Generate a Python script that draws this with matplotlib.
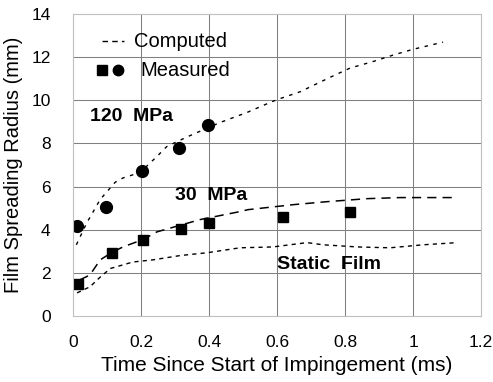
import matplotlib.pyplot as plt

plt.rcParams['font.family'] = ['Liberation Sans', 'DejaVu Sans']

# measured film radius (mm) vs time (ms)
t_120 = [0.012, 0.097, 0.203, 0.312, 0.397]
r_120 = [4.19, 5.07, 6.74, 7.77, 8.84]
t_30 = [0.014, 0.114, 0.207, 0.318, 0.401, 0.616, 0.813]
r_30 = [1.49, 2.93, 3.53, 4.05, 4.33, 4.6, 4.84]

# computed curves
tc_120 = [0.01, 0.04, 0.08, 0.124, 0.147, 0.197, 0.247, 0.276, 0.335, 0.432,
          0.512, 0.579, 0.603, 0.668, 0.756, 0.815, 0.882, 0.941, 1.0, 1.088]
rc_120 = [3.3, 4.3, 5.4, 6.2, 6.4, 6.65, 7.4, 7.86, 8.3, 8.97,
          9.44, 9.9, 10.05, 10.4, 11.07, 11.5, 11.8, 12.1, 12.37, 12.7]
tc_30 = [0.02, 0.05, 0.08, 0.115, 0.147, 0.207, 0.247, 0.374, 0.491, 0.515,
         0.647, 0.747, 0.865, 0.962, 1.08, 1.12]
rc_30 = [1.67, 1.9, 2.6, 2.95, 3.2, 3.55, 3.9, 4.47, 4.84, 4.93,
         5.16, 5.3, 5.44, 5.49, 5.49, 5.49]
tc_st = [0.012, 0.05, 0.08, 0.11, 0.176, 0.235, 0.315, 0.394, 0.491, 0.588,
         0.688, 0.735, 0.835, 0.932, 1.03, 1.13]
rc_st = [1.07, 1.35, 1.8, 2.2, 2.5, 2.6, 2.8, 2.93, 3.16, 3.2,
         3.4, 3.3, 3.2, 3.16, 3.3, 3.4]

fig = plt.figure(figsize=(4.93, 3.82), dpi=100)
ax = fig.add_axes([0.148, 0.173, 0.828, 0.79])

ax.set_xlim(0, 1.2)
ax.set_ylim(0, 14)
ax.set_xticks([0, 0.2, 0.4, 0.6, 0.8, 1.0, 1.2])
ax.set_xticklabels(['0', '0.2', '0.4', '0.6', '0.8', '1', '1.2'])
ax.set_yticks(range(0, 15, 2))
ax.tick_params(length=0, labelsize=12.5)
ax.tick_params(axis='x', pad=14)
ax.tick_params(axis='y', pad=16)

# light grid through the interior ticks
for gx in [0.2, 0.4, 0.6, 0.8, 1.0]:
    ax.plot([gx, gx], [0, 14], color='0.5', lw=0.75, zorder=1)
for gy in [2, 4, 6, 8, 10, 12]:
    ax.plot([0, 1.2], [gy, gy], color='0.5', lw=0.75, zorder=1)
for s in ax.spines.values():
    s.set_color('0.75')
    s.set_linewidth(0.8)

ax.plot(tc_120, rc_120, color='black', lw=1.0, dashes=(2.5, 4))
ax.plot(tc_30, rc_30, color='black', lw=1.1, dashes=(6, 4))
ax.plot(tc_st, rc_st, color='black', lw=1.0, dashes=(3, 3))

ax.plot(t_120, r_120, 'o', color='black', ms=8.5)
ax.plot(t_30, r_30, 's', color='black', ms=7.5)

ax.text(0.05, 9.26, '120  MPa', fontsize=14, fontweight='bold', va='center')
ax.text(0.3, 5.6, '30  MPa', fontsize=14, fontweight='bold', va='center')
ax.text(0.6, 2.37, 'Static  Film', fontsize=14, fontweight='bold', va='center')

# hand-made legend
ax.plot([0.085, 0.15], [12.75, 12.75], color='black', lw=1.0, dashes=(4, 3))
ax.text(0.18, 12.75, 'Computed', fontsize=14.5, va='center')
ax.plot([0.085], [11.4], 's', color='black', ms=7)
ax.plot([0.133], [11.4], 'o', color='black', ms=7.5)
ax.text(0.197, 11.4, 'Measured', fontsize=14.5, va='center')

ax.set_xlabel('Time Since Start of Impingement (ms)', fontsize=15, labelpad=4)
ax.set_ylabel('Film Spreading Radius (mm)', fontsize=14.5, labelpad=6)

fig.savefig('out.png', dpi=100)
